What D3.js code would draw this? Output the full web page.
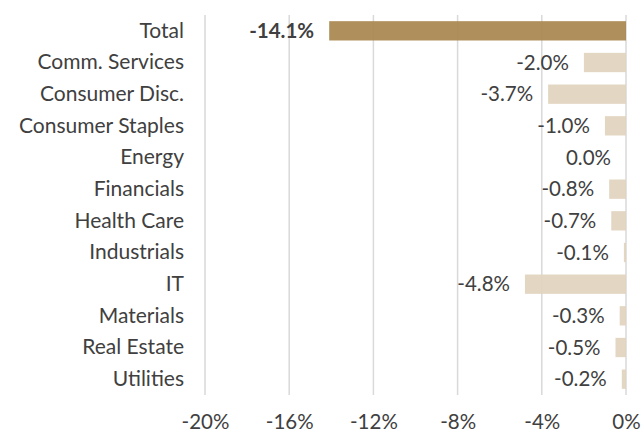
<!DOCTYPE html>
<html>
<head>
<meta charset="utf-8">
<script src="https://cdn.jsdelivr.net/npm/d3@7"></script>
<style>
  body { margin: 0; background: #fff; }
  svg text { font-family: Lato, "Open Sans", sans-serif; fill: #404040; }
</style>
</head>
<body>
<svg id="chart" width="642" height="432"></svg>
<script>
// Sector contributions
const sectors = ['Total', 'Comm. Services', 'Consumer Disc.', 'Consumer Staples', 'Energy',
  'Financials', 'Health Care', 'Industrials', 'IT', 'Materials', 'Real Estate', 'Utilities'];
const returns = [-14.1, -2.0, -3.7, -1.0, 0.0, -0.8, -0.7, -0.1, -4.8, -0.3, -0.5, -0.2];
const xTicks = [-20, -16, -12, -8, -4, 0];

const margin = {top: 15, right: 16, bottom: 37, left: 205};
const width = 642 - margin.left - margin.right;
const height = 432 - margin.top - margin.bottom;

const svg = d3.select('#chart');
const g = svg.append('g')
  .attr('transform', 'translate(' + margin.left + ',' + margin.top + ')');

const x = d3.scaleLinear().domain([-20, 0]).range([0, width]);
const y = d3.scaleBand().domain(sectors).range([0, height]).paddingInner(0.39).paddingOuter(0.195);

// Vertical gridlines
g.selectAll('.grid')
  .data(xTicks)
  .join('line')
  .attr('x1', d => x(d))
  .attr('x2', d => x(d))
  .attr('y1', 0)
  .attr('y2', height)
  .attr('stroke', '#d9d9d9')
  .attr('stroke-width', 1.5);

const data = sectors.map((s, i) => ({name: s, value: returns[i]}));

// Bars
g.selectAll('.bar')
  .data(data)
  .join('rect')
  .attr('x', d => x(d.value))
  .attr('y', d => y(d.name))
  .attr('width', d => x(0) - x(d.value))
  .attr('height', y.bandwidth())
  .attr('fill', d => d.name === 'Total' ? '#a9864f' : '#e1d3bd')
  .attr('fill-opacity', 0.93);

// Value labels
g.selectAll('.val')
  .data(data)
  .join('text')
  .attr('x', d => x(d.value) - 15)
  .attr('y', d => y(d.name) + y.bandwidth() / 2)
  .attr('dy', '0.35em')
  .attr('text-anchor', 'end')
  .style('font-size', '20.5px')
  .style('font-weight', d => d.name === 'Total' ? 700 : 400)
  .text(d => d.value.toFixed(1) + '%');

// Category axis
const yAxis = g.append('g')
  .call(d3.axisLeft(y).tickSize(0).tickPadding(21));
yAxis.select('.domain').remove();
yAxis.selectAll('text')
  .style('font-size', '21px');

// Bottom axis
const xAxis = g.append('g')
  .attr('transform', 'translate(0,' + height + ')')
  .call(d3.axisBottom(x).tickValues(xTicks).tickSize(0).tickPadding(19).tickFormat(d => d + '%'));
xAxis.select('.domain').remove();
xAxis.selectAll('text')
  .style('font-size', '20.5px');
</script>
</body>
</html>
